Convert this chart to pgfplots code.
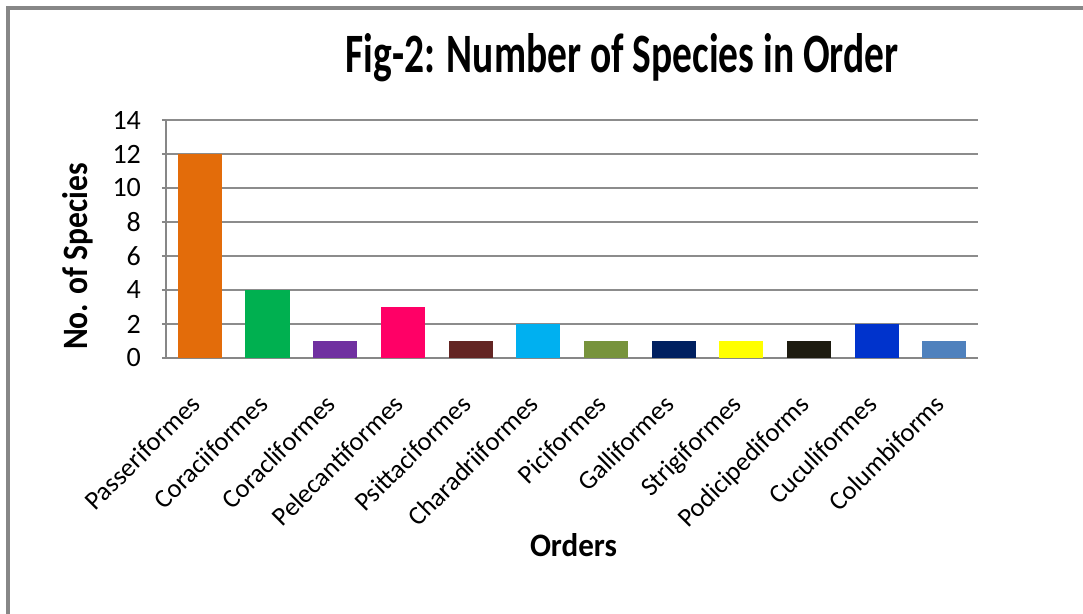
\documentclass[border=0pt]{standalone}
\usepackage{pgfplots}
\pgfplotsset{compat=1.18}
\usepackage{fontspec}
\setmainfont{Carlito}
\definecolor{c1}{HTML}{E36C0A}
\definecolor{c2}{HTML}{00B050}
\definecolor{c3}{HTML}{7030A0}
\definecolor{c4}{HTML}{FF0066}
\definecolor{c5}{HTML}{632523}
\definecolor{c6}{HTML}{00B0F0}
\definecolor{c7}{HTML}{77933C}
\definecolor{c8}{HTML}{002060}
\definecolor{c9}{HTML}{FFFF00}
\definecolor{c10}{HTML}{1D1B10}
\definecolor{c11}{HTML}{0033CC}
\definecolor{c12}{HTML}{4F81BD}
\definecolor{gridgray}{HTML}{8C8C8C}
\definecolor{framegray}{HTML}{878787}
\begin{document}
\begin{tikzpicture}
\useasboundingbox (0,0) rectangle (541.5pt,307pt);
\fill[white] (0,0) rectangle (541.5pt,307pt);
\draw[framegray, line width=1.6pt] (4pt,-2pt) -- (4pt,303pt) -- (545pt,303pt);
\begin{axis}[
  at={(83pt,128pt)}, anchor=south west,
  scale only axis, width=406pt, height=119pt,
  ybar, bar width=22pt, bar shift=0pt,
  xmin=-0.5, xmax=11.5, ymin=0, ymax=14,
  ytick={0,2,...,14},
  xtick={0,...,11},
  xticklabels={Passeriformes,Coraciiformes,Coracliformes,Pelecantiformes,Psittaciformes,Charadriiformes,Piciformes,Galliformes,Strigiformes,Podicipediforms,Cuculiformes,Columbiforms},
  axis x line*=bottom, axis y line*=left,
  axis line style={-, draw=framegray, line width=1pt},
  ymajorgrids, grid style={gridgray, line width=1pt},
  major tick length=2pt, tick align=outside,
  xtick style={draw=none},
  ytick style={draw=framegray, line width=0.8pt},
  /pgf/number format/assume math mode=true,
  yticklabel style={font=\fontsize{14}{16}\selectfont, xshift=-7pt},
  xticklabel style={font=\fontsize{13.2}{16}\selectfont, xshift=-5.5pt, yshift=-10.5pt, rotate=45, anchor=north east},
  clip=false,
]
\addplot[fill=c1, draw=none] coordinates {(0,12)};
\addplot[fill=c2, draw=none] coordinates {(1,4)};
\addplot[fill=c3, draw=none] coordinates {(2,1)};
\addplot[fill=c4, draw=none] coordinates {(3,3)};
\addplot[fill=c5, draw=none] coordinates {(4,1)};
\addplot[fill=c6, draw=none] coordinates {(5,2)};
\addplot[fill=c7, draw=none] coordinates {(6,1)};
\addplot[fill=c8, draw=none] coordinates {(7,1)};
\addplot[fill=c9, draw=none] coordinates {(8,1)};
\addplot[fill=c10, draw=none] coordinates {(9,1)};
\addplot[fill=c11, draw=none] coordinates {(10,2)};
\addplot[fill=c12, draw=none] coordinates {(11,1)};
\end{axis}
\node[anchor=base, inner sep=0pt] at (311pt,270.5pt) {\resizebox{276.5pt}{19.5pt}{\bfseries Fig-2: Number of Species in Order}};
\node[anchor=base, inner sep=0pt, rotate=90] at (43.5pt,178.75pt) {\resizebox{93.5pt}{12.5pt}{\bfseries No. of Species}};
\node[anchor=base, inner sep=0pt] at (286.75pt,28.5pt) {\resizebox{43.5pt}{11.5pt}{\bfseries Orders}};
\end{tikzpicture}
\end{document}
